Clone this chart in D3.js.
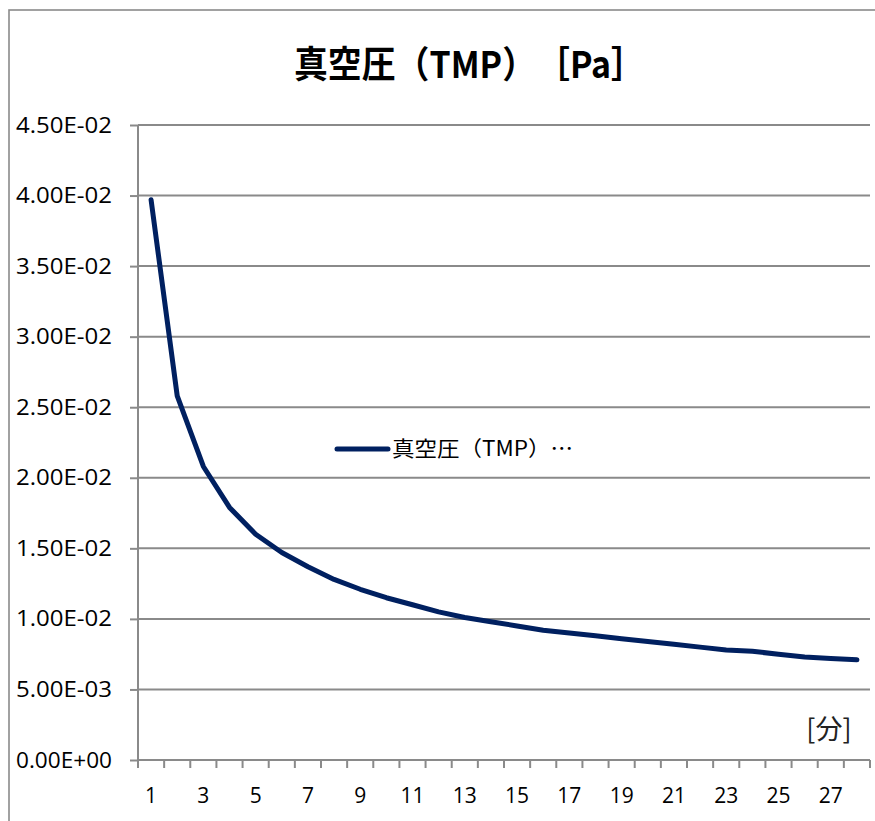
<!DOCTYPE html>
<html>
<head>
<meta charset="utf-8">
<script src="https://cdn.jsdelivr.net/npm/d3@7"></script>
<style>
  html, body { margin: 0; padding: 0; background: #fff; }
  svg { display: block; }
</style>
</head>
<body>
<svg id="chart" width="875" height="821"></svg>
<script>
// ---- data ----
const title = "真空圧（TMP）　［Pa］";
const seriesName = "真空圧（TMP）…";
const xAxisTitle = "[分]";
const minutes = d3.range(1, 29);
const pressure = [
  0.0397, 0.0258, 0.0208, 0.0179, 0.0160, 0.0147, 0.0137, 0.0128,
  0.0121, 0.0115, 0.0110, 0.0105, 0.0101, 0.0098, 0.0095, 0.0092,
  0.0090, 0.0088, 0.0086, 0.0084, 0.0082, 0.0080, 0.0078, 0.0077,
  0.0075, 0.0073, 0.0072, 0.0071
];
const yTickValues = [0, 0.005, 0.01, 0.015, 0.02, 0.025, 0.03, 0.035, 0.04, 0.045];
const yTickLabels = ["0.00E+00","5.00E-03","1.00E-02","1.50E-02","2.00E-02",
                     "2.50E-02","3.00E-02","3.50E-02","4.00E-02","4.50E-02"];
const xTickLabels = minutes.filter(m => m % 2 === 1);

// ---- layout ----
const svg = d3.select("#chart");
const plot = { left: 138, right: 870, top: 125, bottom: 760 };
const gridColor = "#8a8a8a";
const lineColor = "#002060";
const numFont = "'Open Sans', 'Noto Sans', sans-serif";
const cjkFont = "'Noto Sans CJK JP', 'Noto Sans', sans-serif";

// chart border
svg.append("rect")
  .attr("x", 9).attr("y", 10).attr("width", 1000).attr("height", 1000)
  .attr("fill", "none").attr("stroke", gridColor).attr("stroke-width", 1.6);

const x = d3.scaleBand().domain(minutes).range([plot.left, plot.right]).padding(0);
const y = d3.scaleLinear().domain([0, 0.045]).range([plot.bottom, plot.top]);

// y ticks (marks only)
const yAxis = d3.axisLeft(y).tickValues(yTickValues)
  .tickSize(8).tickPadding(0)
  .tickFormat((d, i) => yTickLabels[i]);
const gy = svg.append("g").attr("transform", `translate(${plot.left},0)`).call(yAxis);
gy.select(".domain").remove();
gy.selectAll(".tick line").attr("stroke", gridColor).attr("stroke-width", 2);
gy.selectAll(".tick text").remove();

// gridlines
svg.append("g").selectAll("line").data(yTickValues).join("line")
  .attr("x1", plot.left).attr("x2", plot.right)
  .attr("y1", d => y(d)).attr("y2", d => y(d))
  .attr("stroke", gridColor).attr("stroke-width", 2);

svg.append("g").selectAll("text").data(yTickValues).join("text")
  .attr("x", 112).attr("y", d => y(d) + 7.5)
  .attr("text-anchor", "end")
  .attr("font-family", numFont).attr("font-size", 21)
  .attr("fill", "#000")
  .attr("textLength", 96).attr("lengthAdjust", "spacingAndGlyphs")
  .text((d, i) => yTickLabels[i]);

// y axis line
svg.append("line")
  .attr("x1", plot.left).attr("x2", plot.left)
  .attr("y1", plot.top).attr("y2", plot.bottom)
  .attr("stroke", gridColor).attr("stroke-width", 2);

// x axis line and ticks at category boundaries
svg.append("line")
  .attr("x1", plot.left).attr("x2", plot.right)
  .attr("y1", plot.bottom).attr("y2", plot.bottom)
  .attr("stroke", gridColor).attr("stroke-width", 2);
const boundaries = minutes.map(m => x(m)).concat([plot.right]);
svg.append("g").selectAll("line").data(boundaries).join("line")
  .attr("x1", d => d).attr("x2", d => d)
  .attr("y1", plot.bottom).attr("y2", plot.bottom + 8)
  .attr("stroke", gridColor).attr("stroke-width", 2);

svg.append("g").selectAll("text").data(xTickLabels).join("text")
  .attr("x", d => x(d) + x.bandwidth() / 2)
  .attr("y", 803)
  .attr("text-anchor", "middle")
  .attr("font-family", numFont).attr("font-size", 21)
  .attr("fill", "#000")
  .text(d => d);

// line series
const line = d3.line()
  .x((d, i) => x(minutes[i]) + x.bandwidth() / 2)
  .y(d => y(d));
svg.append("path").datum(pressure)
  .attr("d", line)
  .attr("fill", "none").attr("stroke", lineColor)
  .attr("stroke-width", 5).attr("stroke-linejoin", "round").attr("stroke-linecap", "round");

// title
svg.append("text")
  .attr("x", 294).attr("y", 78)
  .attr("font-family", cjkFont).attr("font-weight", "bold").attr("font-size", 37)
  .attr("fill", "#000")
  .attr("textLength", 351).attr("lengthAdjust", "spacingAndGlyphs")
  .text(title);

// legend
svg.append("line")
  .attr("x1", 337).attr("x2", 388).attr("y1", 449).attr("y2", 449)
  .attr("stroke", lineColor).attr("stroke-width", 5).attr("stroke-linecap", "round");
svg.append("text")
  .attr("x", 392).attr("y", 456)
  .attr("font-family", cjkFont).attr("font-size", 21)
  .attr("fill", "#000")
  .attr("textLength", 181).attr("lengthAdjust", "spacingAndGlyphs")
  .text(seriesName);

// x axis title
svg.append("text")
  .attr("x", 829).attr("y", 739)
  .attr("text-anchor", "middle")
  .attr("font-family", cjkFont).attr("font-size", 27)
  .attr("fill", "#222")
  .text(xAxisTitle);
</script>
</body>
</html>
